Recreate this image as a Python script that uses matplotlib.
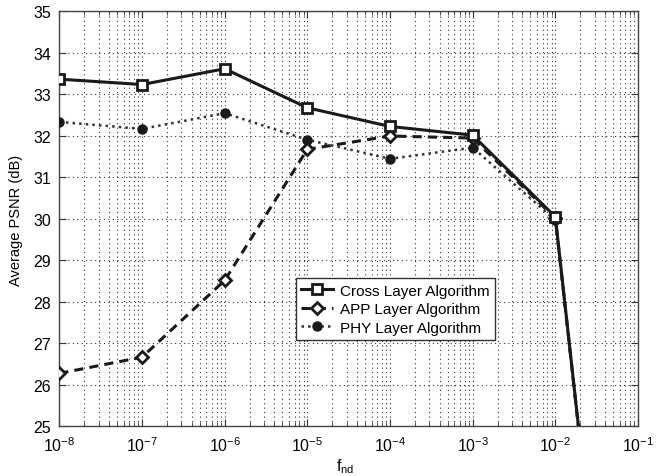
import matplotlib
matplotlib.use("Agg")
import matplotlib.pyplot as plt
import numpy as np
from matplotlib.ticker import LogLocator, NullFormatter

plt.rcParams['font.family'] = ['Liberation Sans', 'DejaVu Sans']
plt.rcParams['mathtext.fontset'] = 'custom'
plt.rcParams['mathtext.rm'] = 'Liberation Sans'
plt.rcParams['mathtext.it'] = 'Liberation Sans:italic'

f_nd = [1e-8, 1e-7, 1e-6, 1e-5, 1e-4, 1e-3, 1e-2, 1e-1]
cross = [33.37, 33.24, 33.62, 32.68, 32.23, 32.02, 30.05, 12.0]
app = [26.28, 26.67, 28.52, 31.68, 32.00, 31.95, 30.02, 12.0]
phy = [32.34, 32.17, 32.55, 31.91, 31.45, 31.72, 29.97, 12.0]

x_ticks = [1e-8, 1e-7, 1e-6, 1e-5, 1e-4, 1e-3, 1e-2, 1e-1]
x_tick_labels = [r'$10^{-8}$', r'$10^{-7}$', r'$10^{-6}$', r'$10^{-5}$',
                 r'$10^{-4}$', r'$10^{-3}$', r'$10^{-2}$', r'$10^{-1}$']
y_ticks = list(range(25, 36))

fig = plt.figure(figsize=(6.69, 4.77), dpi=100)
ax = fig.add_axes([0.0887, 0.1038, 0.8650, 0.8700])

ax.plot(f_nd, cross, '-', color='#1a1a1a', lw=2.2, marker='s', ms=6.5,
        mfc='white', mec='#1a1a1a', mew=2.0, label='Cross Layer Algorithm', zorder=5)
ax.plot(f_nd, app, '--', color='#1a1a1a', lw=2.2, marker='D', ms=6.5,
        mfc='white', mec='#1a1a1a', mew=2.0, dashes=(3, 2), label='APP Layer Algorithm', zorder=4)
ax.plot(f_nd, phy, ':', color='#333333', lw=1.8, marker='o', ms=6.5,
        mfc='#1a1a1a', mec='#1a1a1a', label='PHY Layer Algorithm', zorder=3)

ax.set_xscale('log')
ax.set_xlim(1e-8, 1e-1)
ax.set_ylim(25, 35)
ax.set_xticks(x_ticks)
ax.set_xticklabels(x_tick_labels)
ax.xaxis.set_minor_locator(LogLocator(base=10, subs=np.arange(2, 10), numticks=20))
ax.xaxis.set_minor_formatter(NullFormatter())
ax.set_yticks(y_ticks)

ax.grid(True, which='major', linestyle=(0, (1, 3)), color='#333333', lw=0.8)
ax.grid(True, which='minor', axis='x', linestyle=(0, (1, 3)), color='#333333', lw=0.8)

ax.tick_params(which='both', direction='in', top=True, right=True, labelsize=11.5,
               color='#333333')
ax.tick_params(axis='y', which='major', length=5, pad=6)
ax.tick_params(axis='x', which='major', length=5, pad=6)
ax.tick_params(which='minor', length=3)
for s in ax.spines.values():
    s.set_color('#444444')
    s.set_linewidth(1.0)

ax.set_xlabel(r'f$_{\mathrm{nd}}$', fontsize=11.5)
ax.xaxis.set_label_coords(0.494, -0.071)
ax.set_ylabel('Average PSNR (dB)', fontsize=10.5, labelpad=7)

leg = ax.legend(loc='lower left', bbox_to_anchor=(0.409, 0.208), fontsize=11,
                frameon=True, fancybox=False, edgecolor='#333333', framealpha=1,
                handlelength=2.1, borderpad=0.35, labelspacing=0.3, handletextpad=0.4,
                borderaxespad=0)
leg.get_frame().set_linewidth(1.0)

fig.savefig('out.png', dpi=100)
